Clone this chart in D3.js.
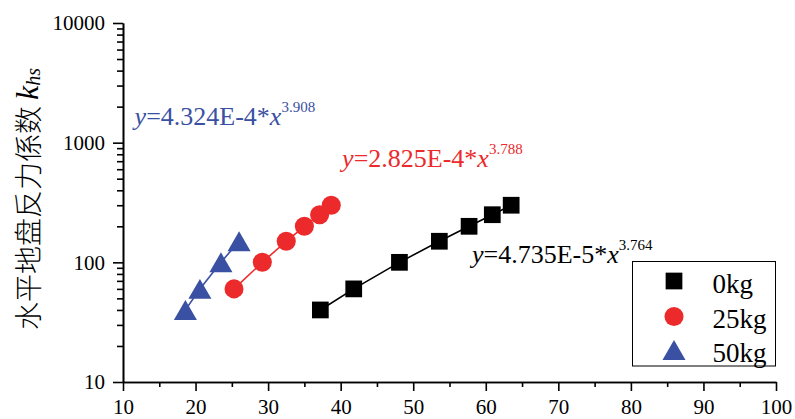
<!DOCTYPE html>
<html>
<head>
<meta charset="utf-8">
<script src="https://cdn.jsdelivr.net/npm/d3@7"></script>
<style>
  body { margin: 0; background: #fff; }
  #chart { width: 795px; height: 419px; }
  .axis text { font-family: "Liberation Serif", "Times New Roman", serif; font-size: 21px; fill: #000; }
  .axis path, .axis line { stroke: #000; stroke-width: 1.6px; }
</style>
</head>
<body>
<div id="chart"></div>
<script>
// data
var series_names = ["0kg", "25kg", "50kg"]
var series_colors = ["#000000", "#ec2a2b", "#3a50a2"]
var x_0kg = [37.2, 41.8, 48.1, 53.6, 57.7, 60.9, 63.5]
var y_0kg = [40, 60, 100, 150, 200, 250, 300]
var x_25kg = [25.3, 29.2, 32.5, 35.0, 37.1, 38.7]
var y_25kg = [60, 100, 150, 200, 250, 300]
var x_50kg = [18.6, 20.6, 23.5, 26.0]
var y_50kg = [40, 60, 100, 150]
var x_ticks = [10, 20, 30, 40, 50, 60, 70, 80, 90, 100]
var y_ticks = [10, 100, 1000, 10000]
var eq_coef = ["4.735E-5", "2.825E-4", "4.324E-4"]
var eq_pow = ["3.764", "3.788", "3.908"]
var eq_anchor = [[58.1, 98], [40.2, 625], [11.6, 1400]]

var MARGIN = {TOP: 23, RIGHT: 19, BOTTOM: 37, LEFT: 123},
  WIDTH = 795 - MARGIN.LEFT - MARGIN.RIGHT,
  HEIGHT = 419 - MARGIN.TOP - MARGIN.BOTTOM;

var svg = d3.select("#chart").append("svg")
  .attr("width", 795)
  .attr("height", 419)

var g = svg.append("g")
  .attr("transform", "translate(" + MARGIN.LEFT + "," + MARGIN.TOP + ")")

var xScale = d3.scaleLinear().domain([10, 100]).range([0, WIDTH])
var yScale = d3.scaleLog().domain([10, 10000]).range([HEIGHT, 0])

// minor ticks
var x_minor = x_ticks.slice(0, -1).map(function(d){ return d + 5 })
var y_minor = []
y_ticks.slice(0, -1).forEach(function(d){
  for (var k = 2; k < 10; k++) y_minor.push(d * k)
})

g.append("g")
  .attr("class", "axis")
  .attr("transform", "translate(0," + HEIGHT + ")")
  .call(d3.axisBottom(xScale).tickValues(x_minor).tickSize(5).tickSizeOuter(0).tickFormat(""))
g.append("g")
  .attr("class", "axis")
  .attr("transform", "translate(0," + HEIGHT + ")")
  .call(d3.axisBottom(xScale).tickValues(x_ticks).tickSize(9).tickSizeOuter(0).tickPadding(8).tickFormat(d3.format("d")))

g.append("g")
  .attr("class", "axis")
  .call(d3.axisLeft(yScale).tickValues(y_minor).tickSize(6).tickSizeOuter(0).tickFormat(""))
g.append("g")
  .attr("class", "axis")
  .call(d3.axisLeft(yScale).tickValues(y_ticks).tickSize(10).tickSizeOuter(0).tickPadding(8).tickFormat(d3.format("d")))

// y axis title
var ylab = svg.append("text")
  .attr("transform", "translate(27,199) rotate(-90)")
  .attr("text-anchor", "middle")
  .attr("dominant-baseline", "central")
  .style("fill", "#000")
ylab.append("tspan")
  .style("font-family", "'Noto Sans CJK SC', sans-serif")
  .style("font-weight", "300")
  .style("font-size", "28px")
  .text("水平地盘反力係数 ")
ylab.append("tspan")
  .style("font-family", "'Liberation Serif', serif")
  .style("font-style", "italic")
  .style("font-weight", "normal")
  .style("font-size", "32px")
  .text("k")
ylab.append("tspan")
  .attr("dy", 6)
  .style("font-family", "'Liberation Serif', serif")
  .style("font-style", "italic")
  .style("font-weight", "normal")
  .style("font-size", "20px")
  .text("hs")

var all_x = [x_0kg, x_25kg, x_50kg]
var all_y = [y_0kg, y_25kg, y_50kg]
var shapes = [d3.symbolSquare, d3.symbolCircle, d3.symbolTriangle]
var sizes = [280, 285, 230]
// triangle is drawn centred on its box, like Origin does
var tri_shift = Math.sqrt(230 / (Math.sqrt(3) * 3)) / 2

series_names.forEach(function(name, s){
  var pts = all_x[s].map(function(x, i){ return [x, all_y[s][i]] })
  var line = d3.line()
    .x(function(d){ return xScale(d[0]) })
    .y(function(d){ return yScale(d[1]) })

  g.append("path")
    .datum(pts)
    .attr("d", line)
    .style("fill", "none")
    .style("stroke", series_colors[s])
    .style("stroke-width", "1.6px")

  g.selectAll(".pt" + s)
    .data(pts)
    .enter()
    .append("path")
    .attr("class", "pt" + s)
    .attr("d", d3.symbol().type(shapes[s]).size(sizes[s]))
    .attr("transform", function(d){
      var dy = s == 2 ? tri_shift : 0
      return "translate(" + xScale(d[0]) + "," + (yScale(d[1]) + dy) + ")"
    })
    .style("fill", series_colors[s])
})

// fit equations
eq_coef.forEach(function(c, s){
  var t = g.append("text")
    .attr("x", xScale(eq_anchor[s][0]))
    .attr("y", yScale(eq_anchor[s][1]))
    .style("font-family", "'Liberation Serif', 'Times New Roman', serif")
    .style("font-size", "26px")
    .style("fill", series_colors[s])
  t.append("tspan").style("font-style", "italic").text("y")
  t.append("tspan").text("=" + c + "*")
  t.append("tspan").style("font-style", "italic").text("x")
  t.append("tspan")
    .attr("dy", -13)
    .style("font-size", "15px")
    .text(eq_pow[s])
})

// legend
var legend = svg.append("g")
  .attr("transform", "translate(632.5,261.5)")
legend.append("rect")
  .attr("width", 143)
  .attr("height", 104.5)
  .style("fill", "#fff")
  .style("stroke", "#000")
  .style("stroke-width", "1px")

var rows = [19.5, 55, 88.5]
series_names.forEach(function(name, s){
  var dy = s == 2 ? tri_shift : 0
  legend.append("path")
    .attr("d", d3.symbol().type(shapes[s]).size(sizes[s]))
    .attr("transform", "translate(41.5," + (rows[s] + dy) + ")")
    .style("fill", series_colors[s])
  legend.append("text")
    .attr("x", 80)
    .attr("y", rows[s] + 11.5)
    .style("font-family", "'Liberation Serif', 'Times New Roman', serif")
    .style("font-size", "27px")
    .style("fill", "#000")
    .text(name)
})
</script>
</body>
</html>
